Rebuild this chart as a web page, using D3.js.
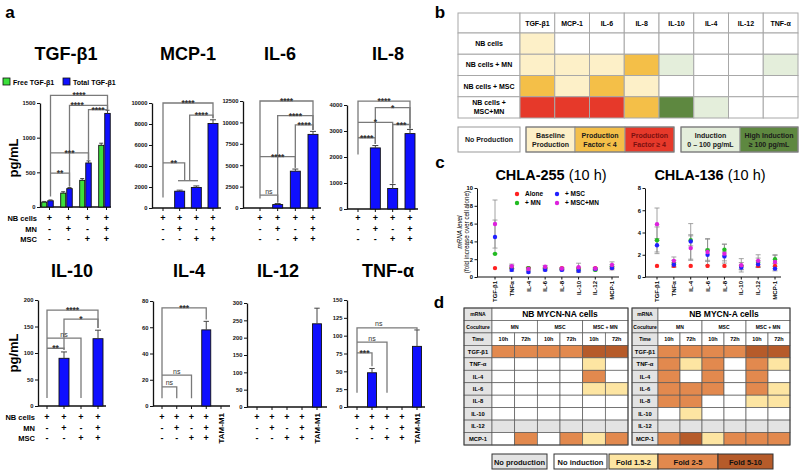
<!DOCTYPE html>
<html><head><meta charset="utf-8">
<script src="https://cdn.jsdelivr.net/npm/d3@7"></script>
<style>body{margin:0;background:#fff}svg{display:block}</style>
</head><body>
<svg id="chart" width="800" height="471"></svg>
<script>
// ================= DATA =================
// panel a : x-axis condition rows
const rowNB  = ["+", "+", "+", "+"];
const rowMN  = ["-", "+", "-", "+"];
const rowMSC = ["-", "-", "+", "+"];
const rowNames = ["NB cells", "MN", "MSC"];
const extraGroup = "TAM-M1";
const legendA = ["Free TGF-β1", "Total TGF-β1"];

const tgfFree = [70, 200, 385, 890];
const tgfFreeErr = [10, 20, 25, 30];
const tgfTotal = [90, 265, 635, 1350];
const tgfTotalErr = [12, 15, 30, 45];
const mcp1 = [0, 1600, 1950, 8050];
const mcp1Err = [0, 100, 150, 350];
const il6 = [0, 400, 4300, 8600];
const il6Err = [0, 120, 250, 350];
const il8 = [0, 2350, 790, 2900];
const il8Err = [0, 90, 150, 160];
const il10 = [0, 90, 0, 127];
const il10Err = [0, 12, 0, 16];
const il4 = [0, 0, 0, 58, 0];
const il4Err = [0, 0, 0, 6.5, 0];
const il12 = [0, 0, 0, 0, 240];
const il12Err = [0, 0, 0, 0, 45];
const tnfa = [0, 48, 0, 0, 85];
const tnfaErr = [0, 6, 0, 0, 23];

const tgfTicks = [0, 500, 1000, 1500];
const mcp1Ticks = [0, 2000, 4000, 6000, 8000, 10000];
const il6Ticks = [0, 2500, 5000, 7500, 10000, 12500];
const il8Ticks = [0, 1000, 2000, 3000, 4000];
const il10Ticks = [0, 50, 100, 150, 200];
const il4Ticks = [0, 20, 40, 60, 80];
const il12Ticks = [0, 50, 100, 150, 200, 250, 300];
const tnfaTicks = [0, 25, 50, 75, 100, 125, 150];

// significance brackets: [fromGroup, toGroup, level, leftLegEnd, rightLegEnd, label, labelGroup?]
const tgfBrackets = [[0, 3, 1610, 150, 1410, "****"], [1, 3, 1465, 300, 1410, "****", 1.4], [2, 3, 1405, 680, 1400, "****"], [0, 2, 780, 780, 680, "***"], [0, 1, 490, 490, 295, "**"]];
const mcp1Brackets = [[0, 3, 10000, 1000, 8550, "****"], [1.6, 3, 8850, 2600, 8550, "****"], [0, 1.3, 4300, 4300, 2600, "**"]];
const mcp1Lines = [[0.9, 2.1, 2600]];
const il6Brackets = [[0, 3, 12500, 1100, 9100, "****"], [1, 3, 10800, 650, 9100, "****"], [2, 3, 9700, 4700, 9100, "****"], [0, 2, 6000, 6000, 4700, "****"], [0, 1, 1500, 1500, 650, "ns"]];
const il8Brackets = [[0, 3, 4150, 2100, 3100, "****"], [1, 3, 3900, 2500, 3100, "*"], [0, 2, 3330, 3330, 980, "*"], [2, 3, 3250, 980, 3100, "***"], [0, 1, 2740, 2740, 2500, "****"]];
const il10Brackets = [[0, 3, 181, 15, 147, "****"], [1, 3, 164, 106, 147, "*"], [0, 2, 128, 128, 15, "ns"], [0, 1, 109, 109, 106, "**"]];
const il4Brackets = [[0, 3, 74.7, 6, 66, "***"], [0, 2, 23.6, 23.6, 6, "ns"], [0, 1, 14.5, 14.5, 6, "ns"]];
const tnfaBrackets = [[0, 4, 111, 20, 108, "ns", 1.45], [0, 2, 91, 91, 20, "ns"], [0, 1, 76, 76, 57, "***"]];

// panel b
const bCols = ["TGF-β1", "MCP-1", "IL-6", "IL-8", "IL-10", "IL-4", "IL-12", "TNF-α"];
const bRows = [["NB cells"], ["NB cells + MN"], ["NB cells + MSC"], ["NB cells +", "MSC+MN"]];
// 0 none, 1 baseline, 2 factor<4, 3 factor>=4, 4 induction, 5 high induction
const bCells = [
  [1, 0, 0, 0, 0, 0, 0, 0],
  [1, 1, 1, 2, 4, 0, 0, 4],
  [2, 1, 2, 1, 0, 0, 0, 0],
  [3, 3, 3, 2, 5, 4, 0, 0]
];
const bLegend = [["No Production"], ["Baseline", "Production"], ["Production", "Factor < 4"], ["Production", "Factor ≥ 4"], ["Induction", "0 – 100 pg/mL"], ["High Induction", "≥ 100 pg/mL"]];

// panel c
const cGenes = ["TGF-β1", "TNFα", "IL-4", "IL-6", "IL-8", "IL-10", "IL-12", "MCP-1"];
const cSeries = ["Alone", "+ MN", "+ MSC", "+ MSC+MN"];
const chla255Alone = [1, 1, 1, 1, 1, 1, 1, 1];
const chla255MN = [2.6, 1.1, 1.0, 1.0, 0.9, 0.9, 0.8, 1.2];
const chla255MNErr = [0, 0.2, 0.1, 0.1, 0.1, 0.2, 0.1, 0.2];
const chla255MSC = [4.5, 0.8, 0.55, 0.8, 0.8, 0.7, 0.9, 1.0];
const chla255MSCErr = [1.9, 0.15, 0.1, 0.1, 0.1, 0.2, 0.1, 0.2];
const chla255MSCMN = [5.95, 1.2, 0.9, 1.15, 0.95, 1.1, 0.95, 1.35];
const chla255MSCMNErr = [2.7, 0.25, 0.15, 0.15, 0.1, 0.45, 0.1, 0.35];
const chla136Alone = [1, 1, 1, 1, 1, 1, 1, 1];
const chla136MN = [3.3, 1.2, 3.3, 2.4, 2.45, 1.0, 1.3, 1.6];
const chla136MNErr = [1.2, 0.3, 0.5, 1.0, 0.5, 0.3, 0.4, 0.4];
const chla136MSC = [2.85, 1.1, 3.2, 2.0, 1.85, 0.85, 1.15, 0.75];
const chla136MSCErr = [0.6, 0.2, 1.6, 0.5, 0.4, 0.2, 0.3, 0.2];
const chla136MSCMN = [4.75, 1.45, 2.6, 2.25, 2.1, 1.05, 1.45, 1.35];
const chla136MSCMNErr = [1.45, 0.35, 1.1, 1.2, 0.85, 0.6, 0.55, 0.6];
const chla255Ticks = [0, 2, 4, 6, 8, 10];
const chla136Ticks = [0, 2, 4, 6, 8];

// panel d
const dGenes = ["TGF-β1", "TNF-α", "IL-4", "IL-6", "IL-8", "IL-10", "IL-12", "MCP-1"];
const dCocultures = ["MN", "MSC", "MSC + MN"];
const dTimes = ["10h", "72h"];
// -1 no production, 0 no induction, 1 fold 1.5-2, 2 fold 2-5, 3 fold 5-10
const mycnNA = [
  [2, 2, 2, 2, 3, 3], [0, 0, 0, 0, 1, 0], [0, 0, 0, 0, 2, 0], [0, 0, 0, 0, 1, 1],
  [0, 0, 0, 0, 0, 0], [0, 0, 0, 0, 0, 0], [-1, -1, -1, -1, -1, -1], [0, 2, 0, 2, 1, 2]
];
const mycnA = [
  [2, 2, 2, 2, 3, 3], [2, 1, 2, 0, 2, 1], [2, 0, 2, 0, 2, 0], [2, 2, 2, 0, 2, 1],
  [2, 2, 0, 0, 1, 1], [0, 1, 0, 0, 0, 0], [-1, -1, -1, -1, -1, -1], [2, 3, 1, 2, 2, 2]
];
const dLegend = ["No production", "No induction", "Fold  1.5-2", "Fold 2-5", "Fold 5-10"];

// ================= DRAWING =================
const FONT = "'Liberation Sans', Arial, Helvetica, sans-serif";
const svg = d3.select("#chart").attr("font-family", FONT);

function txt(g, x, y, s, o = {}) {
  return g.append("text").attr("x", x).attr("y", y).text(s)
    .attr("font-size", o.size || 8).attr("font-weight", o.weight || "bold")
    .attr("text-anchor", o.anchor || "middle").attr("fill", o.fill || "#000");
}

// panel letters
txt(svg, 10, 18, "a", {size: 17});
txt(svg, 440, 18, "b", {size: 17});
txt(svg, 440, 168, "c", {size: 17});
txt(svg, 439, 308, "d", {size: 17});

function barPanel(o) {
  const g = svg.append("g");
  const x = d3.scaleLinear().domain([0, o.n - 1]).range(o.gx);
  const y = d3.scaleLinear().domain([0, o.max]).range([o.y0, o.yTop]);
  txt(g, o.tx, o.ty, o.title, {size: 18});
  const ag = g.append("g").attr("transform", `translate(${o.ax},0)`)
    .call(d3.axisLeft(y).tickValues(o.ticks).tickSize(3).tickSizeOuter(0).tickPadding(1.5).tickFormat(d3.format("d")));
  ag.select(".domain").attr("stroke", "#111").attr("stroke-width", 1.3);
  ag.selectAll(".tick line").attr("stroke", "#111").attr("stroke-width", 1);
  ag.selectAll(".tick text").attr("font-size", 5.8).attr("font-weight", "bold").attr("fill", "#111").attr("font-family", FONT);
  g.append("line").attr("x1", o.ax).attr("x2", o.axEnd).attr("y1", o.y0).attr("y2", o.y0)
    .attr("stroke", "#111").attr("stroke-width", 1.3);
  g.selectAll(null).data(d3.range(o.n)).join("line")
    .attr("x1", i => x(i) + (o.lblOff || 0)).attr("x2", i => x(i) + (o.lblOff || 0))
    .attr("y1", o.y0).attr("y2", o.y0 + 3).attr("stroke", "#111").attr("stroke-width", 1);
  // bars and error bars
  o.series.forEach(s => {
    const idx = d3.range(o.n).filter(i => s.vals[i] > 0);
    g.selectAll(null).data(idx).join("rect")
      .attr("x", i => x(i) + s.off - s.w / 2).attr("width", s.w)
      .attr("y", i => y(s.vals[i])).attr("height", i => o.y0 - y(s.vals[i]))
      .attr("fill", s.color).attr("stroke", "#111").attr("stroke-width", 0.9);
    g.selectAll(null).data(idx.filter(i => s.errs[i] > 0)).join("path")
      .attr("d", i => {
        const cx = x(i) + s.off, t = y(s.vals[i] + s.errs[i]), b = y(s.vals[i]), c = Math.max(2, s.w * 0.3);
        return `M${cx},${b}V${t}M${cx - c},${t}H${cx + c}`;
      })
      .attr("stroke", "#444").attr("stroke-width", 1).attr("fill", "none");
  });
  // brackets
  const bo = o.brOff || 0;
  (o.lines || []).forEach(([a, b, v]) => {
    g.append("path").attr("d", `M${x(a) + bo},${y(v)}H${x(b) + bo}`)
      .attr("stroke", "#7a7a7a").attr("stroke-width", 1.3).attr("fill", "none");
  });
  (o.brackets || []).forEach(([a, b, v, va, vb, label, lg]) => {
    const xa = x(a) + bo, xb = x(b) + bo;
    g.append("path").attr("d", `M${xa},${y(va)}V${y(v)}H${xb}V${y(vb)}`)
      .attr("stroke", "#7a7a7a").attr("stroke-width", 1.3).attr("fill", "none");
    const lx = lg !== undefined ? x(lg) + bo : (xa + xb) / 2;
    const star = label.includes("*");
    txt(g, lx, y(v) + (star ? 3 : -1.5), label, {size: star ? 8.5 : 7, weight: star ? "bold" : "normal", fill: "#333"});
  });
  // condition rows
  [rowNB, rowMN, rowMSC].forEach((r, k) => {
    g.selectAll(null).data(r).join("text")
      .attr("x", (d, i) => x(i) + (o.lblOff || 0)).attr("y", o.ly[k]).text(d => d)
      .attr("font-size", 9).attr("font-weight", "bold").attr("text-anchor", "middle");
    if (o.names) txt(g, o.namesX, o.ly[k], rowNames[k], {size: 7.5, anchor: "end"});
  });
  if (o.n === 5) {
    g.append("text").attr("transform", `translate(${x(4) + 3},${o.ly[0] - 7}) rotate(-90)`)
      .attr("text-anchor", "end").attr("font-size", 8).attr("font-weight", "bold").text(extraGroup);
  }
  return {g, x, y};
}

const BLUE = "#0f0fff", GREEN = "#3be03b";
const ly1 = [221, 232, 242], ly2 = [420, 431, 441];

barPanel({title: "TGF-β1", tx: 66, ty: 60, ax: 40, axEnd: 111, gx: [47.5, 104.5], n: 4, y0: 207, yTop: 103, max: 1500, ticks: tgfTicks,
  series: [{vals: tgfFree, errs: tgfFreeErr, color: GREEN, w: 5, off: -3.3}, {vals: tgfTotal, errs: tgfTotalErr, color: BLUE, w: 5.5, off: 3}],
  brOff: 3, lblOff: 2, brackets: tgfBrackets, ly: ly1, names: true, namesX: 37});
barPanel({title: "MCP-1", tx: 188, ty: 60, ax: 152, axEnd: 221, gx: [163, 213], n: 4, y0: 208, yTop: 103, max: 10000, ticks: mcp1Ticks,
  series: [{vals: mcp1, errs: mcp1Err, color: BLUE, w: 10, off: 0}], brackets: mcp1Brackets, lines: mcp1Lines, ly: ly1});
barPanel({title: "IL-6", tx: 280, ty: 60, ax: 243, axEnd: 321, gx: [260, 313], n: 4, y0: 208, yTop: 101, max: 12500, ticks: il6Ticks,
  series: [{vals: il6, errs: il6Err, color: BLUE, w: 10, off: 0}], brackets: il6Brackets, ly: ly1});
barPanel({title: "IL-8", tx: 388, ty: 60, ax: 347, axEnd: 418, gx: [358, 410], n: 4, y0: 209, yTop: 105, max: 4000, ticks: il8Ticks,
  series: [{vals: il8, errs: il8Err, color: BLUE, w: 10, off: 0}], brackets: il8Brackets, ly: ly1});
barPanel({title: "IL-10", tx: 72, ty: 277, ax: 38, axEnd: 106, gx: [47, 98], n: 4, y0: 406, yTop: 300, max: 200, ticks: il10Ticks,
  series: [{vals: il10, errs: il10Err, color: BLUE, w: 10, off: 0}], brackets: il10Brackets, ly: ly2, names: true, namesX: 35});
barPanel({title: "IL-4", tx: 189, ty: 277, ax: 153, axEnd: 230, gx: [162, 221], n: 5, y0: 406, yTop: 301, max: 80, ticks: il4Ticks,
  series: [{vals: il4, errs: il4Err, color: BLUE, w: 9, off: 0}], brackets: il4Brackets, ly: ly2});
barPanel({title: "IL-12", tx: 278, ty: 277, ax: 247, axEnd: 327, gx: [257, 317], n: 5, y0: 407, yTop: 303, max: 300, ticks: il12Ticks,
  series: [{vals: il12, errs: il12Err, color: BLUE, w: 9, off: 0}], ly: ly2});
barPanel({title: "TNF-α", tx: 388, ty: 277, ax: 347, axEnd: 425, gx: [357, 417], n: 5, y0: 407, yTop: 300, max: 150, ticks: tnfaTicks,
  series: [{vals: tnfa, errs: tnfaErr, color: BLUE, w: 9, off: 0}], brackets: tnfaBrackets, ly: ly2});

// pg/mL labels
[[18, 158], [18, 353]].forEach(([px, py]) => {
  svg.append("text").attr("transform", `translate(${px},${py}) rotate(-90)`).attr("text-anchor", "middle")
    .attr("font-size", 13).attr("font-weight", "bold").text("pg/mL");
});
// legend a
[[GREEN, 3, 13], [BLUE, 63, 73]].forEach(([c, rx, tx], i) => {
  svg.append("rect").attr("x", rx).attr("y", 78).attr("width", 7).attr("height", 7).attr("fill", c).attr("stroke", "#111").attr("stroke-width", 0.8);
  txt(svg, tx, 85, legendA[i], {size: 7, anchor: "start"});
});

// ---------- panel b ----------
const bColor = ["#ffffff", "#fdf0c8", "#f4bf48", "#e6392a", "#e4eedb", "#5e8840"];
(function () {
  const g = svg.append("g");
  const x0 = 458, labW = 62, x1 = 798, y0 = 13, headH = 20, y1 = 118;
  const bx = d3.scaleBand().domain(bCols).range([x0 + labW, x1]);
  const by = d3.scaleBand().domain(d3.range(bRows.length)).range([y0 + headH, y1]);
  const st = "#a8a8a8";
  g.append("rect").attr("x", x0).attr("y", y0).attr("width", labW).attr("height", headH).attr("fill", "#fff").attr("stroke", st);
  bCols.forEach(c => {
    g.append("rect").attr("x", bx(c)).attr("y", y0).attr("width", bx.bandwidth()).attr("height", headH).attr("fill", "#fff").attr("stroke", st);
    txt(g, bx(c) + bx.bandwidth() / 2, y0 + headH / 2 + 2.5, c, {size: 7});
  });
  bRows.forEach((r, i) => {
    g.append("rect").attr("x", x0).attr("y", by(i)).attr("width", labW).attr("height", by.bandwidth()).attr("fill", "#fff").attr("stroke", st);
    r.forEach((line, k) => txt(g, x0 + labW / 2, by(i) + by.bandwidth() / 2 + 2.5 + (k - (r.length - 1) / 2) * 9, line, {size: 7}));
    bCols.forEach((c, j) => {
      g.append("rect").attr("x", bx(c)).attr("y", by(i)).attr("width", bx.bandwidth()).attr("height", by.bandwidth())
        .attr("fill", bColor[bCells[i][j]]).attr("stroke", st);
    });
  });
  // legend
  const ly0 = 127, lh = 25;
  const boxes = [[458, 520, 0], [526, 575, 1], [575, 625, 2], [625, 674, 3], [681, 740, 4], [740, 798, 5]];
  boxes.forEach(([a, b, k], i) => {
    g.append("rect").attr("x", a).attr("y", ly0).attr("width", b - a).attr("height", lh).attr("fill", bColor[k]).attr("stroke", "#999");
    const lines = bLegend[i];
    lines.forEach((line, m) => txt(g, (a + b) / 2, ly0 + lh / 2 + 2.5 + (m - (lines.length - 1) / 2) * 9, line,
      {size: 7, fill: k === 3 ? "#7a0f0f" : "#1a1a1a"}));
  });
  [[526, 674], [681, 798]].forEach(([a, b]) => g.append("rect").attr("x", a).attr("y", ly0).attr("width", b - a).attr("height", lh).attr("fill", "none").attr("stroke", "#777"));
})();

// ---------- panel c ----------
const cColors = ["#ff2020", "#22bb22", "#2020ff", "#dd22dd"];
function dotPanel(o) {
  const g = svg.append("g");
  const x = d3.scalePoint().domain(cGenes).range(o.gx);
  const y = d3.scaleLinear().domain([0, o.max]).range([o.y0, o.yTop]);
  const t = g.append("text").attr("x", o.tx).attr("y", 180).attr("text-anchor", "middle").attr("font-size", 14.5);
  t.append("tspan").attr("font-weight", "bold").text(o.title);
  t.append("tspan").attr("font-weight", "normal").text(" (10 h)");
  const ag = g.append("g").attr("transform", `translate(${o.ax},0)`)
    .call(d3.axisLeft(y).tickValues(o.ticks).tickSize(2.5).tickSizeOuter(0).tickPadding(1.5));
  ag.select(".domain").attr("stroke", "#111").attr("stroke-width", 1);
  ag.selectAll(".tick line").attr("stroke", "#111");
  ag.selectAll(".tick text").attr("font-size", 5.8).attr("font-weight", "bold").attr("font-family", FONT);
  g.append("line").attr("x1", o.ax).attr("x2", o.axEnd).attr("y1", o.y0).attr("y2", o.y0).attr("stroke", "#111").attr("stroke-width", 1);
  g.selectAll(null).data(cGenes).join("line").attr("x1", d => x(d)).attr("x2", d => x(d))
    .attr("y1", o.y0).attr("y2", o.y0 + 2.5).attr("stroke", "#111");
  g.selectAll(null).data(cGenes).join("text")
    .attr("transform", d => `translate(${x(d) + 2.2},${o.y0 + 4}) rotate(-90)`)
    .attr("text-anchor", "end").attr("font-size", 6).attr("font-weight", "bold").text(d => d);
  // error bars
  o.series.forEach(s => {
    if (!s.err) return;
    g.selectAll(null).data(cGenes.map((d, i) => i).filter(i => s.err[i] > 0)).join("path")
      .attr("d", i => {
        const cx = x(cGenes[i]), a = y(s.vals[i] + s.err[i]), b = y(Math.max(0, s.vals[i] - s.err[i]));
        return `M${cx},${b}V${a}M${cx - 2.5},${a}H${cx + 2.5}M${cx - 2.5},${b}H${cx + 2.5}`;
      })
      .attr("stroke", "#8c8c8c").attr("stroke-width", 0.8).attr("fill", "none");
  });
  o.series.forEach((s, k) => {
    g.selectAll(null).data(s.vals).join("circle")
      .attr("cx", (d, i) => x(cGenes[i])).attr("cy", d => y(d)).attr("r", 2.2).attr("fill", cColors[k]);
  });
}
dotPanel({title: "CHLA-255", tx: 551, ax: 477, axEnd: 619, gx: [495, 612], y0: 277, yTop: 188, max: 10, ticks: chla255Ticks,
  series: [{vals: chla255Alone}, {vals: chla255MN, err: chla255MNErr}, {vals: chla255MSC, err: chla255MSCErr}, {vals: chla255MSCMN, err: chla255MSCMNErr}]});
dotPanel({title: "CHLA-136", tx: 710, ax: 645, axEnd: 781, gx: [657, 775], y0: 277, yTop: 188, max: 8, ticks: chla136Ticks,
  series: [{vals: chla136Alone}, {vals: chla136MN, err: chla136MNErr}, {vals: chla136MSC, err: chla136MSCErr}, {vals: chla136MSCMN, err: chla136MSCMNErr}]});
// c legend and y label
[[517, 194], [517, 203], [557, 194], [557, 203]].forEach(([cx, cy], k) => {
  svg.append("circle").attr("cx", cx).attr("cy", cy).attr("r", 2.2).attr("fill", cColors[k]);
  txt(svg, cx + 8, cy + 2.3, cSeries[k], {size: 6.5, anchor: "start"});
});
[["mRNA level", 461.5], ["(fold increase over cell alone)", 469]].forEach(([s, px]) => {
  svg.append("text").attr("transform", `translate(${px},232) rotate(-90)`).attr("text-anchor", "middle")
    .attr("font-size", 6.3).attr("font-style", s.startsWith("m") ? "italic" : "normal").text(s);
});

// ---------- panel d ----------
const dColor = {"-1": "#e3e3e3", "0": "#ffffff", "1": "#fde5a2", "2": "#e2894e", "3": "#b65b2a"};
function dTable(o) {
  const g = svg.append("g");
  const labW = o.labW;
  const ry = d3.scaleBand().domain(d3.range(3 + dGenes.length)).range([308, 445]);
  const cx = d3.scaleBand().domain(d3.range(6)).range([o.x0 + labW, o.x1]);
  const cw = cx.bandwidth(), rh = ry.bandwidth();
  const st = "#5a5a5a";
  const cell = (x, y, w, h, fill) => g.append("rect").attr("x", x).attr("y", y).attr("width", w).attr("height", h).attr("fill", fill).attr("stroke", st).attr("stroke-width", 0.7);
  ["mRNA", "Coculture", "Time"].concat(dGenes).forEach((lab, r) => {
    cell(o.x0, ry(r), labW, rh, "#e3e3e3");
    txt(g, o.x0 + labW / 2, ry(r) + rh / 2 + 2, lab, {size: r < 3 ? 5 : 5.8});
  });
  cell(o.x0 + labW, ry(0), o.x1 - o.x0 - labW, rh, "#fff");
  txt(g, (o.x0 + labW + o.x1) / 2, ry(0) + rh / 2 + 3, o.title, {size: 8.5});
  dCocultures.forEach((c, k) => {
    cell(cx(k * 2), ry(1), cw * 2, rh, "#fff");
    txt(g, cx(k * 2) + cw, ry(1) + rh / 2 + 2, c, {size: 5});
  });
  d3.range(6).forEach(j => {
    cell(cx(j), ry(2), cw, rh, "#fff");
    txt(g, cx(j) + cw / 2, ry(2) + rh / 2 + 2, dTimes[j % 2], {size: 5.5});
  });
  o.data.forEach((row, i) => row.forEach((v, j) => cell(cx(j), ry(3 + i), cw, rh, dColor[v])));
  g.append("rect").attr("x", o.x0).attr("y", 308).attr("width", o.x1 - o.x0).attr("height", 137).attr("fill", "none").attr("stroke", "#444").attr("stroke-width", 1);
}
dTable({x0: 464, x1: 628, labW: 28, title: "NB MYCN-NA cells", data: mycnNA});
dTable({x0: 632, x1: 790, labW: 26, title: "NB MYCN-A cells", data: mycnA});
// d legend
[[492, 547, -1], [554, 607, 0], [609, 658, 1], [658, 718, 2], [718, 773, 3]].forEach(([a, b, k], i) => {
  svg.append("rect").attr("x", a).attr("y", 454).attr("width", b - a).attr("height", 15).attr("fill", dColor[k]).attr("stroke", "#333").attr("stroke-width", 1);
  txt(svg, (a + b) / 2, 464.5, dLegend[i], {size: 7.5, fill: "#111"});
});
</script>
</body></html>
